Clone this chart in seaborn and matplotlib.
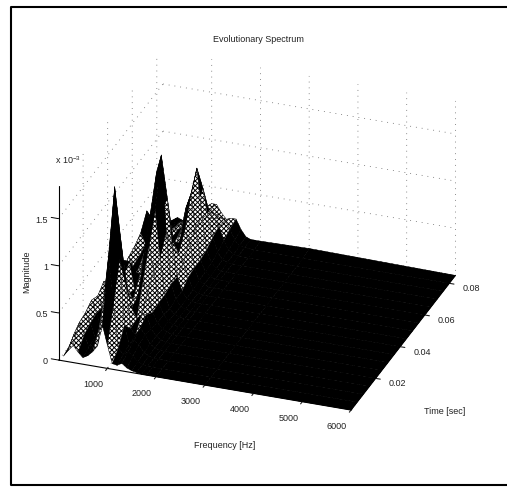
#!/usr/bin/env python
import numpy as np
import seaborn as sns
from matplotlib import pyplot as plt
from matplotlib.lines import Line2D
from mpl_toolkits.mplot3d import proj3d

freq_hz = [100, 200, 300, 400, 500, 600, 700, 800, 900, 1000, 1100, 1200, 1300, 1400, 1500, 1600, 1700, 1800, 2000, 3000, 6000]
time_sec = [0, 0.005, 0.01, 0.015, 0.02, 0.025, 0.03, 0.035, 0.04, 0.045, 0.05, 0.055, 0.06, 0.065, 0.07, 0.075, 0.08, 0.085]

# magnitude x 1e-3, one row per time
mag_t000 = [.05, .12, .18, .12, .07, .10, .15, .22, .45, .25, .06, .05, .08, .04, .02, .01, 0, 0, 0, 0, 0]
mag_t005 = [.08, .22, .34, .22, .10, .14, .30, .62, 1.10, .60, .14, .08, .12, .08, .03, .01, 0, 0, 0, 0, 0]
mag_t010 = [.08, .22, .36, .26, .12, .18, .50, 1.00, 1.75, 1.00, .30, .10, .16, .12, .04, .02, 0, 0, 0, 0, 0]
mag_t015 = [.06, .24, .41, .28, .12, .30, .45, .70, 1.10, .65, .18, .12, .20, .14, .05, .02, 0, 0, 0, 0, 0]
mag_t020 = [.05, .22, .37, .26, .14, .45, .55, .40, .50, .30, .20, .25, .26, .12, .05, .02, 0, 0, 0, 0, 0]
mag_t025 = [.05, .24, .44, .30, .18, .55, .70, .35, .30, .35, .50, .40, .20, .10, .04, .02, 0, 0, 0, 0, 0]
mag_t030 = [.04, .20, .34, .26, .22, .48, .60, .32, .45, .70, .80, .55, .22, .10, .04, .01, 0, 0, 0, 0, 0]
mag_t035 = [.04, .15, .28, .22, .20, .35, .40, .40, .70, 1.05, 1.10, .60, .22, .08, .03, .01, 0, 0, 0, 0, 0]
mag_t040 = [.04, .14, .30, .24, .18, .30, .40, .50, .85, 1.40, 1.60, .80, .25, .10, .03, .01, 0, 0, 0, 0, 0]
mag_t045 = [.04, .18, .36, .28, .22, .40, .55, .45, .60, .95, 1.05, .55, .24, .10, .03, .01, 0, 0, 0, 0, 0]
mag_t050 = [.04, .20, .39, .30, .28, .55, .65, .40, .35, .50, .50, .40, .30, .16, .04, .01, 0, 0, 0, 0, 0]
mag_t055 = [.03, .22, .45, .34, .30, .60, .62, .38, .30, .35, .42, .55, .45, .18, .05, .02, 0, 0, 0, 0, 0]
mag_t060 = [.03, .25, .60, .38, .25, .45, .45, .35, .35, .45, .70, .85, .50, .18, .06, .02, 0, 0, 0, 0, 0]
mag_t065 = [.03, .20, .42, .30, .22, .32, .35, .35, .40, .55, .80, 1.05, .55, .20, .07, .02, 0, 0, 0, 0, 0]
mag_t070 = [.02, .15, .28, .22, .20, .28, .32, .35, .38, .45, .60, .75, .45, .25, .10, .03, .01, 0, 0, 0, 0]
mag_t075 = [.02, .12, .22, .18, .18, .25, .28, .32, .35, .40, .42, .42, .35, .28, .14, .05, .01, 0, 0, 0, 0]
mag_t080 = [.02, .10, .16, .14, .14, .18, .22, .26, .32, .36, .36, .30, .28, .26, .18, .07, .02, .01, 0, 0, 0]
mag_t085 = [.01, .06, .11, .09, .08, .10, .14, .20, .28, .32, .32, .24, .18, .20, .20, .10, .03, .01, .01, .02, 0]

freq_ticks = [1000, 2000, 3000, 4000, 5000, 6000]
time_ticks = [0.02, 0.04, 0.06, 0.08]
mag_ticks = [0, 0.5, 1, 1.5]
mag_tick_labels = ["0", "0.5", "1", "1.5"]

sns.set_style("white")
plt.rcParams['font.family'] = ['Liberation Sans', 'DejaVu Sans']
plt.rcParams['mathtext.default'] = 'regular'
plt.rcParams['hatch.linewidth'] = 0.7
text_col = "#222222"
grid_style = dict(color="#666666", linewidth=0.6, linestyle=(0, (1, 6)))

mag = np.array([mag_t000, mag_t005, mag_t010, mag_t015, mag_t020, mag_t025, mag_t030, mag_t035, mag_t040,
                mag_t045, mag_t050, mag_t055, mag_t060, mag_t065, mag_t070, mag_t075, mag_t080, mag_t085])
X, Y = np.meshgrid(freq_hz, time_sec)

# flat floor, peak tips, ridges and valleys black, the flanks white under a hatch that stands in for the fine mesh
cells = (mag[:-1, :-1] + mag[1:, :-1] + mag[:-1, 1:] + mag[1:, 1:]) / 4
face = np.ones(cells.shape + (4,))
face[(cells < 0.2) | (cells > 1.0), :3] = 0
for i in range(cells.shape[0]):
    for j in range(1, cells.shape[1] - 1):
        is_ridge = cells[i, j] >= cells[i, j - 1] and cells[i, j] >= cells[i, j + 1] and cells[i, j] > 0.4
        is_valley = cells[i, j] <= cells[i, j - 1] and cells[i, j] <= cells[i, j + 1] and cells[i, j] < 0.5
        if is_ridge or is_valley:
            face[i, j, :3] = 0

fig = plt.figure(figsize=(5.07, 4.87), dpi=100)
ax = fig.add_axes([10.5 / 507, 10 / 487, 480 / 507, 480 / 487], projection="3d")
ax.computed_zorder = False
ax.set_proj_type("ortho")
ax.view_init(elev=28, azim=-70)
ax.set_box_aspect((312, 306, 198), zoom=0.968)

surf = ax.plot_surface(X, Y, mag, rstride=1, cstride=1, facecolors=face,
                       edgecolor="black", linewidth=0.3, shade=False, antialiased=True, zorder=2)
surf.set_hatch("xxxxxxx")

ax.set_xlim(0, 6000, view_margin=0)
ax.set_ylim(0, 0.085, view_margin=0)
ax.set_zlim(0, 1.85, view_margin=0)
ax.set_xticks(freq_ticks)
ax.set_yticks(time_ticks)
ax.set_zticks([])
ax.set_xticklabels([str(v) for v in freq_ticks], ha="right")
ax.set_yticklabels([str(v) for v in time_ticks], ha="left", va="bottom")
ax.tick_params(labelsize=6.5, colors=text_col)
ax.xaxis.set_tick_params(pad=-1)
ax.yaxis.set_tick_params(pad=0)

for axis in [ax.xaxis, ax.yaxis, ax.zaxis]:
    axis.set_pane_color((1, 1, 1, 0))
    axis.pane.set_edgecolor((1, 1, 1, 0))
    axis._axinfo["grid"].update(grid_style)
    axis.line.set_color("black")
    axis.line.set_linewidth(0.8)

# the z axis stands at the front left corner, mplot3d would put it on the right
ax.zaxis.line.set_visible(False)
ax.plot([0, 0], [0, 0], [0, 1.85], color="black", lw=0.8, zorder=3)
for v, lab in zip(mag_ticks, mag_tick_labels):
    ax.plot([0, 0], [0, 0.085], [v, v], zorder=1, **grid_style)
    ax.plot([0, 6000], [0.085, 0.085], [v, v], zorder=1, **grid_style)
    ax.plot([0, -150], [0, 0], [v, v], color="black", lw=0.7, zorder=3)
    x2, y2, _ = proj3d.proj_transform(0, 0, v, ax.get_proj())
    ax.annotate(lab, (x2, y2), xytext=(-7.5, -1), textcoords="offset points", fontsize=6.5,
                ha="right", va="center", color=text_col)

fig.text(258 / 507, 1 - 39 / 487, "Evolutionary Spectrum", fontsize=6.5, ha="center", va="center", color=text_col)
fig.text(225 / 507, 1 - 445 / 487, "Frequency [Hz]", fontsize=6.5, ha="center", va="center", color=text_col)
fig.text(445 / 507, 1 - 412 / 487, "Time [sec]", fontsize=6.5, ha="center", va="center", color=text_col)
fig.text(27 / 507, 1 - 272 / 487, "Magnitude", fontsize=6.5, rotation=90, ha="center", va="center", color=text_col)
fig.text(68 / 507, 1 - 160 / 487, "x 10$^{-3}$", fontsize=6.5, ha="center", va="center", color=text_col)

# frame: left, top and bottom only, it runs off the right edge
frame_x = [1, 11 / 507, 11 / 507, 1]
frame_y = [1 - 7 / 487, 1 - 7 / 487, 1 - 485 / 487, 1 - 485 / 487]
fig.add_artist(Line2D(frame_x, frame_y, transform=fig.transFigure, color="black", lw=1.5))

plt.savefig("out.png", dpi=100)
